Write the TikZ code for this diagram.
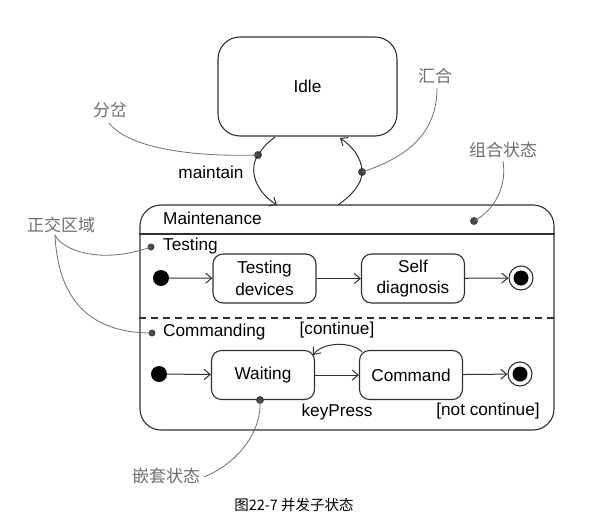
\documentclass[tikz,border=0pt]{standalone}
\usepackage{fontspec}
\setmainfont{Liberation Sans}
\newfontfamily\cjkfont{Noto Sans CJK SC}
\usetikzlibrary{arrows.meta, calc}
\definecolor{linegrey}{HTML}{303030}
\definecolor{notegrey}{HTML}{6E6E6E}
\newcommand{\lblsize}{\fontsize{17.2}{21.5}\selectfont}
\newcommand{\notesize}{\fontsize{17}{19}\cjkfont}

\begin{document}
\begin{tikzpicture}[
    x=1pt, y=-1pt,
    state/.style={rectangle, draw=linegrey, line width=1.1pt, rounded corners=10pt,
                  minimum width=103pt, minimum height=49pt, inner sep=1pt,
                  font=\lblsize, align=center},
    composite/.style={rectangle, draw=linegrey, line width=1.1pt, rounded corners=21pt,
                      inner sep=0pt},
    initdot/.style={circle, fill=black, inner sep=0pt, minimum size=16pt},
    finalring/.style={circle, draw=linegrey, line width=1.1pt, fill=white,
                      inner sep=0pt, minimum size=24pt},
    finaldot/.style={circle, fill=black, inner sep=0pt, minimum size=15pt},
    pindot/.style={circle, fill=linegrey!90, inner sep=0pt, minimum size=8pt},
    trans/.style={-{Straight Barb[length=6pt, width=10pt]}, line width=1pt, draw=linegrey},
    note/.style={draw=notegrey, line width=0.8pt},
    lbl/.style={font=\lblsize, inner sep=1pt},
    notelbl/.style={font=\notesize, text=notegrey, inner sep=1pt},
]
\useasboundingbox (0,0) rectangle (593,527);

% ============== top state ==============
\node[state, minimum width=179pt, minimum height=99pt, rounded corners=22pt] (idle) at (307.5,86.5) {Idle};

% ============== composite state ==============
\node[composite, minimum width=414pt, minimum height=225pt] (maint) at (347,317.5) {};
\coordinate (hdr) at (0,234);
\coordinate (split) at (0,318);
\draw[linegrey, line width=1.1pt] (maint.west |- hdr) -- (maint.east |- hdr);
\draw[linegrey, line width=1.1pt, dashed, dash pattern=on 7pt off 5pt] (maint.west |- split) -- (maint.east |- split);
\node[lbl, anchor=west] (maintname) at (162,218) {Maintenance};

% ============== region: Testing ==============
\node[lbl, anchor=west] (testname) at (162,246) {Testing};
\node[pindot, minimum size=7pt] (testdot) at (151,247) {};
\node[initdot] (tinit) at (161,278) {};
\node[state] (tdev) at (264.5,278.5) {Testing\\devices};
\node[state] (tself) at (413,278.5) {Self\\diagnosis};
\node[finalring] (tfinring) at (521,278) {};
\node[finaldot] (tfin) at (521,278) {};

\draw[trans] (tinit) -- (tdev);
\draw[trans] (tdev) -- (tself);
\draw[trans] (tself) -- (tfinring);

% ============== region: Commanding ==============
\node[lbl, anchor=west] (cmdname) at (162,332) {Commanding};
\node[pindot, minimum size=7pt] (cmddot) at (152,333) {};
\node[initdot] (cinit) at (159,374) {};
\node[state] (wait) at (263,375) {Waiting};
\node[state] (cmd) at (411,375) {Command};
\node[finalring] (cfinring) at (520,374) {};
\node[finaldot] (cfin) at (520,374) {};

\draw[trans] (cinit) -- (wait);
\draw[trans] (wait) -- (cmd);
\draw[trans] (cmd) -- (cfinring);
\draw[trans] (cmd.north west) ++(3,2) coordinate (contout)
    (contout) .. controls (355,343) and (325,340) .. (313,355) coordinate (contin);
\node[lbl] (contlbl) at (337,330) {[continue]};
\node[lbl] (keylbl) at (337,412) {keyPress};
\node[lbl] (notcontlbl) at (488,411) {[not continue]};

% ============== fork / join transitions ==============
\coordinate (forkout) at (275,137);
\coordinate (forkin) at (277,205);
\coordinate (joinout) at (338,205);
\coordinate (joinin) at (340,138);
\node[pindot] (forkdot) at (258,155) {};
\node[pindot] (joindot) at (362,172) {};

\draw[trans] (forkout) .. controls (266,144) .. (forkdot.center)
    .. controls (248,170) and (256,192) .. (forkin);
\draw[trans] (joinout) .. controls (352,195) and (362,184) .. (joindot.center)
    .. controls (362,158) and (352,146) .. (joinin);
\node[lbl] (maintlbl) at (211,172) {maintain};

% ============== callouts ==============
\node[notelbl] (forknote) at (110,110) {分岔};
\draw[note] (109,123) .. controls (130,150) and (200,157) .. (forkdot.center);

\node[notelbl] (joinnote) at (435,76) {汇合};
\draw[note] (437,88) .. controls (437,135) and (405,158) .. (joindot.center);

\node[pindot] (compdot) at (474,221) {};
\node[notelbl] (compnote) at (503,150) {组合状态};
\draw[note] (503,161) .. controls (507,186) and (495,210) .. (compdot.center);

\node[notelbl] (regionnote) at (61,225) {正交区域};
\draw[note] (55,235) .. controls (62,250) and (100,265) .. (testdot.center);
\draw[note] (55,235) .. controls (58,300) and (90,333) .. (cmddot.center);

\node[pindot] (waitdot) at (260,400) {};
\node[notelbl] (nestnote) at (166,476) {嵌套状态};
\draw[note] (204,477) .. controls (240,462) and (262,430) .. (waitdot.center);

% ============== caption ==============
\node[font=\fontsize{14.5}{16}\cjkfont, inner sep=0pt] (caption) at (294,505) {图22-7 并发子状态};

\end{tikzpicture}
\end{document}
